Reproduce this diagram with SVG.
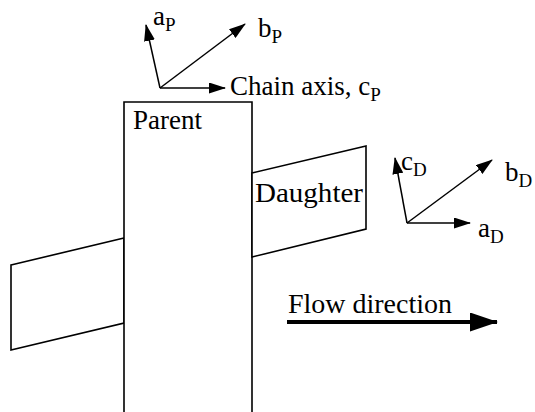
<svg xmlns="http://www.w3.org/2000/svg" width="535" height="412" viewBox="0 0 535 412">
<defs>
<style>
.ln{stroke:#000;stroke-width:1.6;fill:none}
.sh{stroke:#000;stroke-width:1.6;fill:#fff}
.ax{stroke:#000;stroke-width:1.5;fill:none;marker-end:url(#ah)}
.t{font-family:"Liberation Serif","Times New Roman",serif;font-size:27px;fill:#000}
.s{font-family:"Liberation Serif","Times New Roman",serif;font-size:19px;fill:#000}
</style>
<marker id="ah" viewBox="0 0 17 11" refX="16" refY="5.5" markerWidth="17" markerHeight="11" markerUnits="userSpaceOnUse" orient="auto">
<path d="M0,0 L17,5.5 L0,11 Z" fill="#000"/>
</marker>
<marker id="bh" viewBox="0 0 28 19" refX="27" refY="9.5" markerWidth="28" markerHeight="19" markerUnits="userSpaceOnUse" orient="auto">
<path d="M0,0 L28,9.5 L0,19 Z" fill="#000"/>
</marker>
</defs>
<g id="left-panel"><polygon class="sh" points="11,265 124,238 124,323 11,350"/></g>
<g id="parent">
<path class="sh" d="M124,412 L124,102 L252,102 L252,412"/>
<text class="t" x="133" y="129">Parent</text>
</g>
<g id="daughter">
<polygon class="sh" points="252,173 366,146 366,229 252,257"/>
<text class="t" x="255" y="202" textLength="108" lengthAdjust="spacingAndGlyphs">Daughter</text>
</g>
<g id="connectors">
<line class="ax" x1="160" y1="88" x2="146" y2="25"/>
<line class="ax" x1="160" y1="88" x2="245" y2="24"/>
<line class="ax" x1="160" y1="88" x2="225" y2="88"/>
<line class="ax" x1="407" y1="223" x2="395" y2="158"/>
<line class="ax" x1="407" y1="223" x2="492" y2="160"/>
<line class="ax" x1="407" y1="223" x2="470" y2="223"/>
<line x1="287" y1="322" x2="497" y2="322" stroke="#000" stroke-width="4" marker-end="url(#bh)"/>
</g>
<g id="parent-axes-labels">
<text class="t" x="153" y="25">a<tspan class="s" dy="6">P</tspan></text>
<text class="t" x="258" y="37">b<tspan class="s" dy="6">P</tspan></text>
<text class="t" x="230" y="95">Chain axis, c<tspan class="s" dy="6">P</tspan></text>
</g>
<g id="daughter-axes-labels">
<text class="t" x="401" y="170">c<tspan class="s" dy="6">D</tspan></text>
<text class="t" x="505" y="181">b<tspan class="s" dy="6">D</tspan></text>
<text class="t" x="478" y="237">a<tspan class="s" dy="6">D</tspan></text>
</g>
<g id="flow-label">
<text class="t" x="288" y="313" textLength="164" lengthAdjust="spacingAndGlyphs">Flow direction</text>
</g>
</svg>
